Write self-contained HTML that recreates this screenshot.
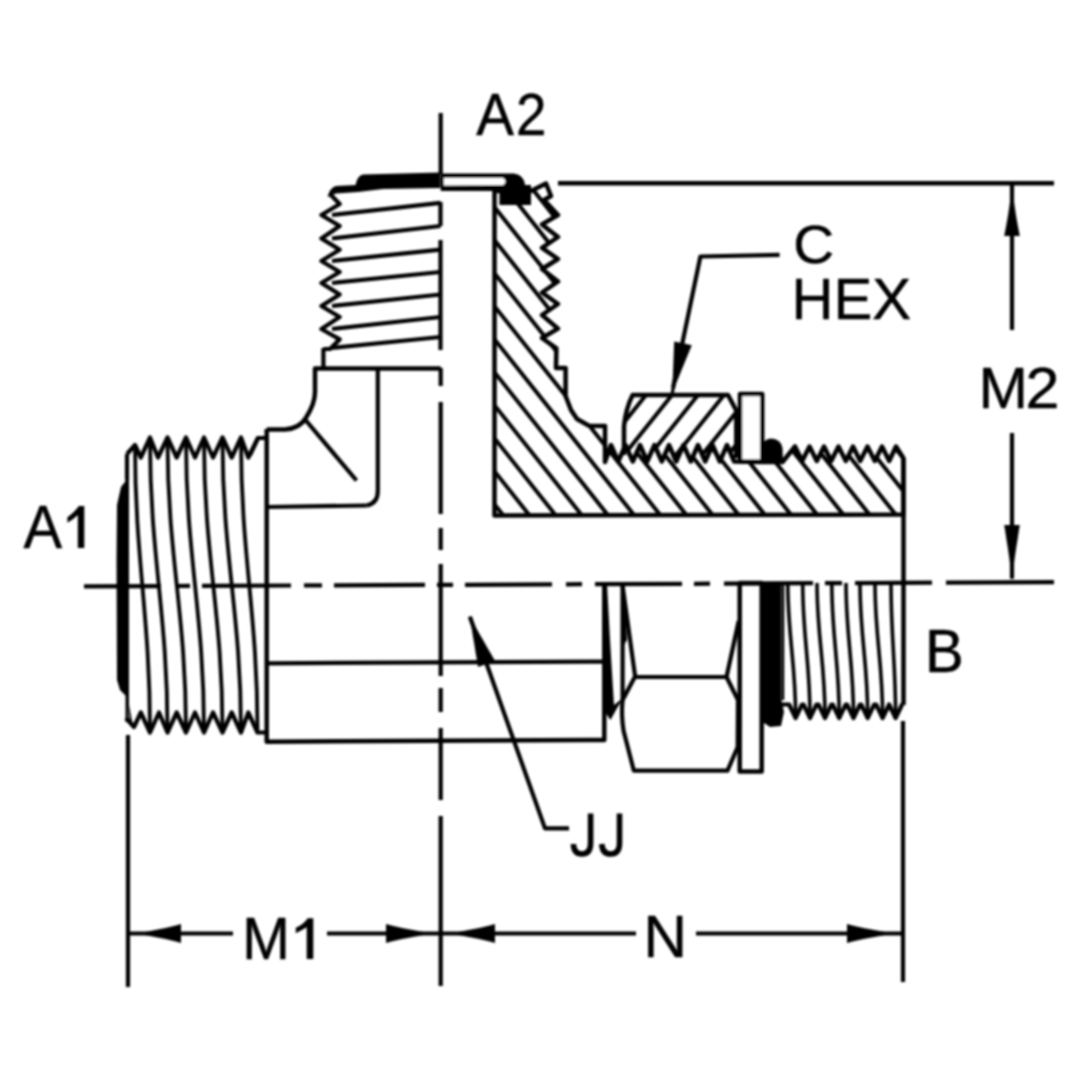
<!DOCTYPE html>
<html><head><meta charset="utf-8"><style>
html,body{margin:0;padding:0;background:#fff;width:1080px;height:1080px;overflow:hidden}
svg{display:block}
text{font-family:"Liberation Sans",sans-serif}
</style></head><body>
<svg width="1080" height="1080" viewBox="0 0 1080 1080" stroke="#000" stroke-linecap="butt" stroke-linejoin="round" fill="none">
<defs><filter id="soft" x="0" y="0" width="1080" height="1080" filterUnits="userSpaceOnUse"><feGaussianBlur stdDeviation="1.2"/></filter></defs>
<rect x="0" y="0" width="1080" height="1080" fill="#fff" stroke="none"/>
<g filter="url(#soft)">
<line x1="440.7" y1="113.0" x2="440.7" y2="174.0" stroke-width="4.2"/>
<line x1="440.7" y1="368.0" x2="440.7" y2="386.0" stroke-width="4.2"/>
<line x1="440.7" y1="402.0" x2="440.7" y2="514.0" stroke-width="4.2"/>
<line x1="440.7" y1="528.0" x2="440.7" y2="550.0" stroke-width="4.2"/>
<line x1="440.7" y1="564.0" x2="440.7" y2="676.0" stroke-width="4.2"/>
<line x1="440.7" y1="688.0" x2="440.7" y2="712.0" stroke-width="4.2"/>
<line x1="440.7" y1="728.0" x2="440.7" y2="800.0" stroke-width="4.2"/>
<line x1="440.7" y1="816.0" x2="440.7" y2="986.0" stroke-width="4.2"/>
<line x1="84.0" y1="586.4" x2="161.0" y2="586.1" stroke-width="4.2"/>
<line x1="176.0" y1="586.0" x2="190.0" y2="585.9" stroke-width="4.2"/>
<line x1="202.0" y1="585.9" x2="291.0" y2="585.5" stroke-width="4.2"/>
<line x1="304.0" y1="585.4" x2="322.0" y2="585.4" stroke-width="4.2"/>
<line x1="334.0" y1="585.3" x2="425.0" y2="584.9" stroke-width="4.2"/>
<line x1="437.0" y1="584.9" x2="453.0" y2="584.8" stroke-width="4.2"/>
<line x1="465.0" y1="584.8" x2="552.0" y2="584.4" stroke-width="4.2"/>
<line x1="566.0" y1="584.3" x2="582.0" y2="584.2" stroke-width="4.2"/>
<line x1="595.0" y1="584.2" x2="682.0" y2="583.8" stroke-width="4.2"/>
<line x1="694.0" y1="583.8" x2="710.0" y2="583.7" stroke-width="4.2"/>
<line x1="724.0" y1="583.6" x2="813.0" y2="583.2" stroke-width="4.2"/>
<line x1="825.0" y1="583.2" x2="842.0" y2="583.1" stroke-width="4.2"/>
<line x1="855.0" y1="583.1" x2="932.0" y2="582.7" stroke-width="4.2"/>
<line x1="946.0" y1="582.7" x2="1054.0" y2="582.2" stroke-width="4.2"/>
<line x1="558.0" y1="183.2" x2="1054.0" y2="183.2" stroke-width="4.5"/>
<line x1="1012.0" y1="183.0" x2="1012.0" y2="330.0" stroke-width="4.2"/>
<polygon points="1012.0,184.0 1013.6,184.0 1013.6,189.2 1013.6,194.4 1013.6,199.6 1014.4,204.8 1015.2,210.0 1016.0,215.2 1016.9,220.4 1017.8,225.6 1018.8,230.8 1019.8,236.0 1012.0,236.0 1004.2,236.0 1005.2,230.8 1006.2,225.6 1007.1,220.4 1008.0,215.2 1008.8,210.0 1009.6,204.8 1010.4,199.6 1010.4,194.4 1010.4,189.2 1010.4,184.0" fill="#000" stroke="none"/>
<line x1="1012.0" y1="433.0" x2="1012.0" y2="578.0" stroke-width="4.2"/>
<polygon points="1012.0,579.0 1010.4,579.0 1010.4,573.6 1010.4,568.2 1009.9,562.8 1009.2,557.4 1008.4,552.0 1007.6,546.6 1006.7,541.2 1005.9,535.8 1005.1,530.4 1004.2,525.0 1012.0,525.0 1019.8,525.0 1018.9,530.4 1018.1,535.8 1017.3,541.2 1016.4,546.6 1015.6,552.0 1014.8,557.4 1014.1,562.8 1013.6,568.2 1013.6,573.6 1013.6,579.0" fill="#000" stroke="none"/>
<line x1="128.0" y1="735.0" x2="128.0" y2="987.0" stroke-width="4.2"/>
<line x1="903.0" y1="721.0" x2="903.0" y2="982.0" stroke-width="4.2"/>
<line x1="128.0" y1="933.5" x2="233.0" y2="933.5" stroke-width="4.2"/>
<line x1="327.0" y1="933.5" x2="440.0" y2="933.5" stroke-width="4.2"/>
<polygon points="129.0,933.5 129.0,931.9 134.2,931.9 139.4,931.9 144.6,931.9 149.8,931.1 155.0,930.1 160.2,929.1 165.4,927.9 170.6,926.7 175.8,925.4 181.0,924.0 181.0,933.5 181.0,943.0 175.8,941.6 170.6,940.3 165.4,939.1 160.2,937.9 155.0,936.9 149.8,935.9 144.6,935.1 139.4,935.1 134.2,935.1 129.0,935.1" fill="#000" stroke="none"/>
<polygon points="440.0,933.5 440.0,935.1 434.6,935.1 429.2,935.1 423.8,935.1 418.4,935.9 413.0,936.9 407.6,937.9 402.2,939.1 396.8,940.3 391.4,941.6 386.0,943.0 386.0,933.5 386.0,924.0 391.4,925.4 396.8,926.7 402.2,927.9 407.6,929.1 413.0,930.1 418.4,931.1 423.8,931.9 429.2,931.9 434.6,931.9 440.0,931.9" fill="#000" stroke="none"/>
<line x1="441.0" y1="933.5" x2="636.0" y2="933.5" stroke-width="4.2"/>
<line x1="696.0" y1="933.5" x2="902.0" y2="933.5" stroke-width="4.2"/>
<polygon points="442.0,933.5 442.0,931.9 447.3,931.9 452.6,931.9 457.9,931.9 463.2,931.1 468.5,930.1 473.8,929.1 479.1,927.9 484.4,926.7 489.7,925.4 495.0,924.0 495.0,933.5 495.0,943.0 489.7,941.6 484.4,940.3 479.1,939.1 473.8,937.9 468.5,936.9 463.2,935.9 457.9,935.1 452.6,935.1 447.3,935.1 442.0,935.1" fill="#000" stroke="none"/>
<polygon points="902.0,933.5 902.0,935.1 896.5,935.1 891.0,935.1 885.5,935.1 880.0,935.9 874.5,936.9 869.0,937.9 863.5,939.1 858.0,940.3 852.5,941.6 847.0,943.0 847.0,933.5 847.0,924.0 852.5,925.4 858.0,926.7 863.5,927.9 869.0,929.1 874.5,930.1 880.0,931.1 885.5,931.9 891.0,931.9 896.5,931.9 902.0,931.9" fill="#000" stroke="none"/>
<polyline points="779.6,254.8 700.4,256.5 673.0,388.0" fill="none" stroke-width="4.2"/>
<polygon points="672.2,393.0 670.6,392.7 671.7,387.7 672.6,382.7 672.8,377.5 673.0,372.4 673.2,367.2 673.4,362.0 673.6,356.9 673.8,351.7 674.0,346.5 674.2,341.4 683.0,343.3 691.8,345.2 689.8,350.0 687.9,354.8 685.9,359.5 684.0,364.3 682.0,369.1 680.0,373.9 678.1,378.7 676.1,383.4 674.8,388.4 673.8,393.3" fill="#000" stroke="none"/>
<polyline points="569.0,828.4 545.0,828.4 470.0,617.0" fill="none" stroke-width="4.2"/>
<polygon points="469.7,616.6 471.2,616.1 472.9,620.8 474.8,625.5 477.3,629.9 479.8,634.4 482.3,638.8 484.9,643.2 487.4,647.7 489.9,652.1 492.5,656.6 495.0,661.0 486.5,664.0 478.0,667.0 477.2,662.0 476.4,656.9 475.5,651.9 474.7,646.8 473.9,641.8 473.0,636.8 472.2,631.7 471.4,626.7 469.9,621.9 468.2,617.1" fill="#000" stroke="none"/>
<polyline points="127.0,454.0 135.0,445.0 140.8,457.5 150.0,437.5 158.0,457.5 167.5,437.5 176.7,457.5 186.0,437.5 195.0,457.5 204.0,437.5 213.0,457.5 222.5,437.5 231.7,457.5 241.0,437.5 248.3,457.5 258.0,438.0 266.7,438.0" fill="none" stroke-width="4.2"/>
<polyline points="126.0,718.0 134.0,727.0 140.8,712.5 150.0,732.5 159.0,712.5 167.5,732.5 176.7,712.5 186.0,732.5 195.0,712.5 204.0,732.5 213.0,712.5 222.5,732.5 231.7,712.5 241.0,732.5 248.3,712.5 257.5,732.5 266.7,732.5" fill="none" stroke-width="4.2"/>
<path d="M135,445 C135,559.0 150,616.0 150,730" fill="none" stroke-width="3.8" />
<path d="M150,440 C150,556.0 167.5,614.0 167.5,730" fill="none" stroke-width="3.8" />
<path d="M167.5,440 C167.5,556.0 186,614.0 186,730" fill="none" stroke-width="3.8" />
<path d="M186,440 C186,556.0 204,614.0 204,730" fill="none" stroke-width="3.8" />
<path d="M204,440 C204,556.0 222.5,614.0 222.5,730" fill="none" stroke-width="3.8" />
<path d="M222.5,440 C222.5,556.0 241,614.0 241,730" fill="none" stroke-width="3.8" />
<path d="M241,440 C241,556.0 257.5,614.0 257.5,730" fill="none" stroke-width="3.8" />
<line x1="127.0" y1="454.0" x2="127.0" y2="480.0" stroke-width="4.2"/>
<path d="M128,478 L121,487 L117,505 L116.5,560 L117,680 L120,690 L127,697 L130,722 L133,726 L129,705 L129,478 Z" fill="#000" stroke-width="0" stroke="none"/>
<line x1="127.0" y1="480.0" x2="127.0" y2="722.0" stroke-width="3"/>
<polyline points="266.7,429.0 266.7,741.7 604.3,740.0 604.3,583.0" fill="none" stroke-width="4.5"/>
<line x1="266.7" y1="506.0" x2="604.0" y2="506.0" stroke-width="0"/>
<polyline points="266.7,507.0 366.7,505.5" fill="none" stroke-width="4.2"/>
<path d="M366.7,505.5 Q378,503 377.8,490.7 L377.8,368.5" fill="none" stroke-width="4.2" />
<line x1="266.7" y1="663.3" x2="604.3" y2="661.6" stroke-width="4.2"/>
<path d="M266.7,429.6 L285,429.6 Q300,428 305.5,418.5 Q315,404 315,392 L315,368.5 L440.7,368.5" fill="none" stroke-width="4.5" />
<line x1="305.5" y1="420.0" x2="356.5" y2="480.5" stroke-width="4.2"/>
<polyline points="266.7,438.0 258.0,438.0 250.0,455.0" fill="none" stroke-width="4.2"/>
<line x1="323.4" y1="348.0" x2="323.4" y2="368.5" stroke-width="4.2"/>
<polyline points="330.0,194.0 339.7,204.0 321.4,215.0 339.7,226.0 321.4,238.5 339.7,249.7 321.4,261.0 339.7,272.0 321.4,283.0 339.7,294.5 321.4,306.0 339.7,317.0 321.4,329.0 339.7,339.4 330.0,349.0 323.4,349.0" fill="none" stroke-width="4.2"/>
<line x1="332.0" y1="215.0" x2="440.5" y2="202.8" stroke-width="4.2"/>
<line x1="332.0" y1="238.5" x2="440.5" y2="226.0" stroke-width="4.2"/>
<line x1="332.0" y1="261.0" x2="440.5" y2="249.7" stroke-width="4.2"/>
<line x1="332.0" y1="283.0" x2="440.5" y2="272.0" stroke-width="4.2"/>
<line x1="332.0" y1="306.0" x2="440.5" y2="294.5" stroke-width="4.2"/>
<line x1="332.0" y1="329.0" x2="440.5" y2="317.0" stroke-width="4.2"/>
<line x1="332.0" y1="348.0" x2="440.5" y2="337.0" stroke-width="4.2"/>
<line x1="440.5" y1="202.0" x2="440.5" y2="226.0" stroke-width="4.2"/>
<line x1="440.5" y1="240.0" x2="440.5" y2="350.0" stroke-width="4.2"/>
<path d="M327.5,197 Q330,187.5 336,186 L355.5,185 Q357.5,175.5 363,174.5 L440.5,172.5 L440.5,188 L383,189 L358,192 L336,193.5 Z" fill="#000" stroke-width="0" stroke="none"/>
<path d="M440.7,173.5 L514,173.5 Q524,175 525,185 L531,185 L531,191 L440.7,191 Z" fill="#000" stroke-width="0" stroke="none"/>
<path d="M444,178 L503,178 Q508,181.5 503,185 L444,185.5 Z" fill="#fff" stroke-width="0" stroke="none"/>
<clipPath id="cs"><path d="M494.5,191.0 L531.0,191.0 L546.0,183.5 L551.0,196.0 L544.0,200.0 L558.0,215.0 L542.0,224.4 L558.0,237.0 L542.0,247.8 L558.0,259.0 L542.0,269.0 L558.0,281.5 L542.0,292.5 L558.0,304.0 L542.0,315.0 L558.0,328.6 L542.0,338.0 L556.4,348.3 L556.0,368.0 L565.6,368.0 L565.6,396.0 L571.0,410.0 L577.0,419.0 L589.0,425.8 L605.0,426.0 L605.0,462.0 L611.0,445.0 L618.2,461.5 L625.5,445.0 L632.8,461.5 L640.0,445.0 L647.2,461.5 L654.5,445.0 L661.8,461.5 L669.0,445.0 L676.2,461.5 L683.5,445.0 L690.8,461.5 L698.0,445.0 L705.2,461.5 L712.5,445.0 L719.8,461.5 L727.0,445.0 L734.2,461.5 L762.0,462.0 L782.5,462.0 L795.0,446.5 L802.2,461.0 L809.5,446.5 L816.8,461.0 L824.0,446.5 L831.2,461.0 L838.5,446.5 L845.8,461.0 L853.0,446.5 L860.2,461.0 L867.5,446.5 L874.8,461.0 L882.0,446.5 L889.2,461.0 L896.0,446.5 L903.3,458.0 L903.3,514.5 L494.5,515.5 Z"/></clipPath>
<g clip-path="url(#cs)"><line x1="-101.9" y1="116.0" x2="225.6" y2="528.6" stroke-width="4"/><line x1="-75.7" y1="116.0" x2="251.8" y2="528.6" stroke-width="4"/><line x1="-49.5" y1="116.0" x2="278.0" y2="528.6" stroke-width="4"/><line x1="-23.3" y1="116.0" x2="304.2" y2="528.6" stroke-width="4"/><line x1="2.9" y1="116.0" x2="330.4" y2="528.6" stroke-width="4"/><line x1="29.1" y1="116.0" x2="356.6" y2="528.6" stroke-width="4"/><line x1="55.3" y1="116.0" x2="382.8" y2="528.6" stroke-width="4"/><line x1="81.5" y1="116.0" x2="409.0" y2="528.6" stroke-width="4"/><line x1="107.7" y1="116.0" x2="435.2" y2="528.6" stroke-width="4"/><line x1="133.9" y1="116.0" x2="461.4" y2="528.6" stroke-width="4"/><line x1="160.1" y1="116.0" x2="487.6" y2="528.6" stroke-width="4"/><line x1="186.3" y1="116.0" x2="513.8" y2="528.6" stroke-width="4"/><line x1="212.5" y1="116.0" x2="540.0" y2="528.6" stroke-width="4"/><line x1="238.7" y1="116.0" x2="566.2" y2="528.6" stroke-width="4"/><line x1="264.9" y1="116.0" x2="592.4" y2="528.6" stroke-width="4"/><line x1="291.1" y1="116.0" x2="618.6" y2="528.6" stroke-width="4"/><line x1="317.3" y1="116.0" x2="644.8" y2="528.6" stroke-width="4"/><line x1="343.5" y1="116.0" x2="671.0" y2="528.6" stroke-width="4"/><line x1="369.7" y1="116.0" x2="697.2" y2="528.6" stroke-width="4"/><line x1="395.9" y1="116.0" x2="723.4" y2="528.6" stroke-width="4"/><line x1="422.1" y1="116.0" x2="749.6" y2="528.6" stroke-width="4"/><line x1="448.3" y1="116.0" x2="775.8" y2="528.6" stroke-width="4"/><line x1="474.5" y1="116.0" x2="802.0" y2="528.6" stroke-width="4"/><line x1="500.7" y1="116.0" x2="828.2" y2="528.6" stroke-width="4"/><line x1="526.9" y1="116.0" x2="854.4" y2="528.6" stroke-width="4"/><line x1="553.1" y1="116.0" x2="880.6" y2="528.6" stroke-width="4"/><line x1="579.3" y1="116.0" x2="906.8" y2="528.6" stroke-width="4"/><line x1="605.5" y1="116.0" x2="933.0" y2="528.6" stroke-width="4"/><line x1="631.7" y1="116.0" x2="959.2" y2="528.6" stroke-width="4"/></g>
<path d="M494.5,191.0 L531.0,191.0 L546.0,183.5 L551.0,196.0 L544.0,200.0 L558.0,215.0 L542.0,224.4 L558.0,237.0 L542.0,247.8 L558.0,259.0 L542.0,269.0 L558.0,281.5 L542.0,292.5 L558.0,304.0 L542.0,315.0 L558.0,328.6 L542.0,338.0 L556.4,348.3 L556.0,368.0 L565.6,368.0 L565.6,396.0 L571.0,410.0 L577.0,419.0 L589.0,425.8 L605.0,426.0 L605.0,462.0 L611.0,445.0 L618.2,461.5 L625.5,445.0 L632.8,461.5 L640.0,445.0 L647.2,461.5 L654.5,445.0 L661.8,461.5 L669.0,445.0 L676.2,461.5 L683.5,445.0 L690.8,461.5 L698.0,445.0 L705.2,461.5 L712.5,445.0 L719.8,461.5 L727.0,445.0 L734.2,461.5 L762.0,462.0 L782.5,462.0 L795.0,446.5 L802.2,461.0 L809.5,446.5 L816.8,461.0 L824.0,446.5 L831.2,461.0 L838.5,446.5 L845.8,461.0 L853.0,446.5 L860.2,461.0 L867.5,446.5 L874.8,461.0 L882.0,446.5 L889.2,461.0 L896.0,446.5 L903.3,458.0 L903.3,514.5 L494.5,515.5 Z" fill="none" stroke-width="4.5"/>
<path d="M499.4,188 L531,188 L531,205 L499.4,205 Z" fill="#000" stroke-width="0" stroke="none"/>
<clipPath id="cn"><path d="M632.6,395.0 L728.0,395.0 L736.3,410.5 L736.3,455.0 L734.2,461.5 L727.0,445.0 L719.8,461.5 L712.5,445.0 L705.2,461.5 L698.0,445.0 L690.8,461.5 L683.5,445.0 L676.2,461.5 L669.0,445.0 L661.8,461.5 L654.5,445.0 L647.2,461.5 L640.0,445.0 L632.8,461.5 L625.5,445.0 L624.0,455.0 L624,426 Q626,408 632.6,395 Z"/></clipPath>
<g clip-path="url(#cn)"><line x1="616.0" y1="335.0" x2="504.0" y2="475.0" stroke-width="4"/><line x1="642.0" y1="335.0" x2="530.0" y2="475.0" stroke-width="4"/><line x1="668.0" y1="335.0" x2="556.0" y2="475.0" stroke-width="4"/><line x1="694.0" y1="335.0" x2="582.0" y2="475.0" stroke-width="4"/><line x1="720.0" y1="335.0" x2="608.0" y2="475.0" stroke-width="4"/><line x1="746.0" y1="335.0" x2="634.0" y2="475.0" stroke-width="4"/><line x1="772.0" y1="335.0" x2="660.0" y2="475.0" stroke-width="4"/><line x1="798.0" y1="335.0" x2="686.0" y2="475.0" stroke-width="4"/><line x1="824.0" y1="335.0" x2="712.0" y2="475.0" stroke-width="4"/><line x1="850.0" y1="335.0" x2="738.0" y2="475.0" stroke-width="4"/><line x1="876.0" y1="335.0" x2="764.0" y2="475.0" stroke-width="4"/></g>
<path d="M624,455 L624,426 Q626,408 632.6,395 L728,395 L736.3,410.5 L736.3,458" fill="none" stroke-width="4.5"/>
<rect x="740" y="394" width="22.2" height="67.5" fill="#fff" stroke-width="4.5"/>
<path d="M762,464 L762,447 Q763,439 771,438.5 Q781,439 782.5,448 L783,464 Z" fill="#000" stroke="none"/>
<polygon points="603.5,584 607,584 610,640 614,705 619,701 622.5,699 616,710 610.5,720 605,712" fill="#000" stroke="none"/>
<line x1="622.6" y1="583.0" x2="622.6" y2="700.0" stroke-width="4.2"/>
<polyline points="622.6,586.0 635.2,677.0 726.5,677.0 738.7,621.0" fill="none" stroke-width="4.2"/>
<polygon points="621,600 625,600 627,640 624,645" fill="#000" stroke="none"/>
<path d="M634.8,677 L622.6,700 Q621,715 623.6,731 L633.8,770.6 L727.5,770.6 L737.7,747 L738,700 L726.5,677" fill="none" stroke-width="4.2" />
<rect x="739.7" y="583" width="22" height="188.6" fill="none" stroke-width="4.5"/>
<path d="M762.6,583 L781.5,583 L781.5,700 L784,712 L781,726 L770,727 L762.6,722 Z" fill="#000" stroke-width="0" stroke="none"/>
<polyline points="781.5,704.5 789.1,704.5 795.6,718.0 802.1,704.5 803.5,704.5 810.0,718.0 816.5,704.5 818.5,704.5 825.0,718.0 831.5,704.5 832.7,704.5 839.2,718.0 845.7,704.5 847.0,704.5 853.5,718.0 860.0,704.5 861.2,704.5 867.7,718.0 874.2,704.5 876.1,704.5 882.6,718.0 889.1,704.5 889.1,704.5 895.6,718.0 902.1,704.5 903.5,704.5" fill="none" stroke-width="4.2"/>
<line x1="903.5" y1="458.0" x2="903.5" y2="705.0" stroke-width="4.5"/>
<path d="M787.8,583 C787.8,636.2 795.6,662.8 795.6,716" fill="none" stroke-width="3.6" />
<path d="M802.7,583 C802.7,636.2 810,662.8 810,716" fill="none" stroke-width="3.6" />
<path d="M817,583 C817,636.2 825,662.8 825,716" fill="none" stroke-width="3.6" />
<path d="M831.8,583 C831.8,636.2 839.2,662.8 839.2,716" fill="none" stroke-width="3.6" />
<path d="M846,583 C846,636.2 853.5,662.8 853.5,716" fill="none" stroke-width="3.6" />
<path d="M860,583 C860,636.2 867.7,662.8 867.7,716" fill="none" stroke-width="3.6" />
<path d="M875,583 C875,636.2 882.6,662.8 882.6,716" fill="none" stroke-width="3.6" />
<path d="M891,583 C891,636.2 895.6,662.8 895.6,716" fill="none" stroke-width="3.6" />
<line x1="783.0" y1="583.0" x2="783.0" y2="700.0" stroke-width="2.5"/>
<text transform="translate(476.14,134.95) scale(0.5656,0.5872)" x="0" y="0" font-size="100" fill="#000" stroke="#000" stroke-width="0.87">A</text>
<text transform="translate(516.01,134.75) scale(0.5482,0.5874)" x="0" y="0" font-size="100" fill="#000" stroke="#000" stroke-width="0.88">2</text>
<text transform="translate(793.36,262.71) scale(0.5671,0.5424)" x="0" y="0" font-size="100" fill="#000" stroke="#000" stroke-width="0.90">C</text>
<text transform="translate(791.48,319.05) scale(0.5822,0.5785)" x="0" y="0" font-size="100" fill="#000" stroke="#000" stroke-width="0.86">HEX</text>
<text transform="translate(978.38,407.55) scale(0.5934,0.5785)" x="0" y="0" font-size="100" fill="#000" stroke="#000" stroke-width="0.85">M</text>
<text transform="translate(1025.50,407.55) scale(0.6096,0.5702)" x="0" y="0" font-size="100" fill="#000" stroke="#000" stroke-width="0.85">2</text>
<text transform="translate(23.43,547.75) scale(0.5792,0.6032)" x="0" y="0" font-size="100" fill="#000" stroke="#000" stroke-width="0.85">A</text>
<path d="M84.3,506 L84.3,548 L77.8,548 L77.8,515.0 Q73.8,519.2 67.4,522.7 L67.4,517.2 Q74.8,512.0 78.8,506 Z" fill="#000" stroke="none"/>
<text transform="translate(925.09,672.15) scale(0.5808,0.6148)" x="0" y="0" font-size="100" fill="#000" stroke="#000" stroke-width="0.84">B</text>
<path d="M590.6,813.5 L590.6,843 Q590.6,854 581.8,854 Q573.8,854 573.4,844" fill="none" stroke-width="5.6" stroke-linecap="butt"/>
<path d="M619.5,813.5 L619.5,843 Q619.5,854 610.7,854 Q602.3,854 601.8,844" fill="none" stroke-width="5.6" stroke-linecap="butt"/>
<text transform="translate(242.27,958.75) scale(0.5710,0.5916)" x="0" y="0" font-size="100" fill="#000" stroke="#000" stroke-width="0.86">M</text>
<path d="M313.3,918.3 L313.3,959 L306.7,959 L306.7,927.3 Q302.7,929.8 295.8,933.3 L295.8,927.8 Q303.7,924.3 307.7,918.3 Z" fill="#000" stroke="none"/>
<text transform="translate(643.28,957.15) scale(0.6064,0.5974)" x="0" y="0" font-size="100" fill="#000" stroke="#000" stroke-width="0.83">N</text>
</g>
</svg>
</body></html>
